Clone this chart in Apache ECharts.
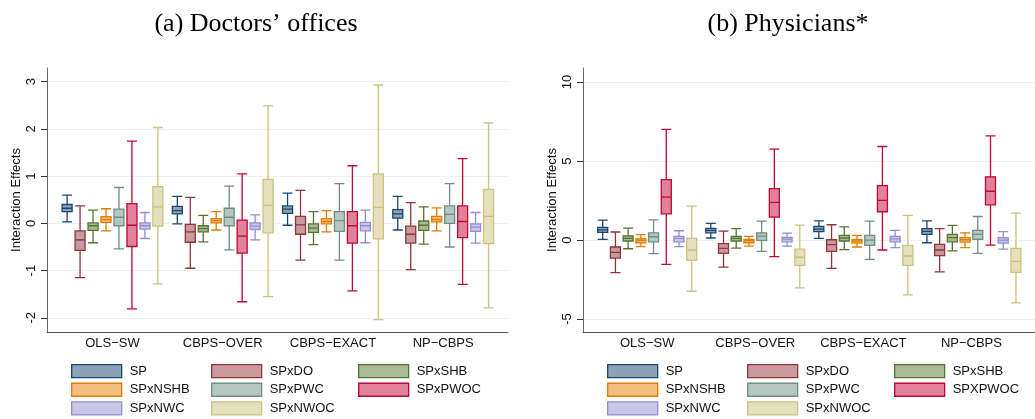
<!DOCTYPE html>
<html>
<head>
<meta charset="utf-8">
<script src="https://cdn.jsdelivr.net/npm/echarts@6/dist/echarts.min.js"></script>
<style>
html,body{margin:0;padding:0;background:#fff;}
#chart{width:1035px;height:419px;}
</style>
</head>
<body>
<div id="chart"></div>
<script>
// 分组与图例名称
var groups = ['OLS\u2212SW', 'CBPS\u2212OVER', 'CBPS\u2212EXACT', 'NP\u2212CBPS'];
var namesA = ['SP', 'SPxDO', 'SPxSHB', 'SPxNSHB', 'SPxPWC', 'SPxPWOC', 'SPxNWC', 'SPxNWOC'];
var namesB = ['SP', 'SPxDO', 'SPxSHB', 'SPxNSHB', 'SPxPWC', 'SPXPWOC', 'SPxNWC', 'SPxNWOC'];
var ticksA = [-2, -1, 0, 1, 2, 3];
var ticksB = [-5, 0, 5, 10];

// (a) Doctors' offices : [min, Q1, median, Q3, max] per group
var officesSP   = [[0.03, 0.25, 0.32, 0.40, 0.60], [-0.01, 0.20, 0.27, 0.36, 0.57], [-0.04, 0.21, 0.30, 0.37, 0.64], [-0.14, 0.11, 0.20, 0.29, 0.57]];
var officesDO   = [[-1.15, -0.57, -0.35, -0.16, 0.37], [-0.95, -0.40, -0.18, -0.02, 0.55], [-0.78, -0.23, -0.03, 0.15, 0.70], [-0.98, -0.42, -0.23, -0.06, 0.44]];
var officesSHB  = [[-0.41, -0.15, -0.05, 0.01, 0.28], [-0.39, -0.18, -0.11, -0.05, 0.17], [-0.45, -0.19, -0.10, -0.01, 0.25], [-0.44, -0.15, -0.04, 0.05, 0.35]];
var officesNSHB = [[-0.16, 0.02, 0.08, 0.14, 0.31], [-0.14, 0.01, 0.06, 0.10, 0.25], [-0.18, -0.01, 0.04, 0.10, 0.27], [-0.16, 0.03, 0.08, 0.15, 0.33]];
var officesPWC  = [[-0.54, -0.05, 0.13, 0.30, 0.76], [-0.56, -0.05, 0.13, 0.32, 0.79], [-0.78, -0.17, 0.06, 0.25, 0.84], [-0.50, 0.00, 0.19, 0.37, 0.84]];
var officesPWOC = [[-1.81, -0.49, -0.04, 0.42, 1.74], [-1.66, -0.63, -0.27, 0.07, 1.05], [-1.43, -0.42, -0.05, 0.25, 1.22], [-1.29, -0.30, 0.04, 0.37, 1.37]];
var officesNWC  = [[-0.32, -0.12, -0.05, 0.01, 0.23], [-0.35, -0.13, -0.06, 0.01, 0.18], [-0.41, -0.16, -0.05, 0.02, 0.28], [-0.42, -0.17, -0.08, -0.01, 0.23]];
var officesNWOC = [[-1.28, -0.06, 0.35, 0.78, 2.03], [-1.55, -0.20, 0.38, 0.93, 2.49], [-2.04, -0.33, 0.34, 1.05, 2.93], [-1.79, -0.43, 0.15, 0.72, 2.13]];

// (b) Physicians*
var physSP   = [[0.04, 0.48, 0.65, 0.80, 1.26], [0.13, 0.46, 0.61, 0.74, 1.05], [0.11, 0.53, 0.69, 0.86, 1.22], [-0.17, 0.36, 0.55, 0.72, 1.22]];
var physDO   = [[-2.06, -1.14, -0.78, -0.44, 0.51], [-1.71, -0.84, -0.53, -0.23, 0.57], [-1.79, -0.72, -0.29, 0.02, 0.97], [-2.02, -0.99, -0.63, -0.27, 0.72]];
var physSHB  = [[-0.55, -0.06, 0.11, 0.27, 0.76], [-0.51, -0.06, 0.11, 0.23, 0.72], [-0.61, -0.06, 0.13, 0.29, 0.84], [-0.69, -0.11, 0.15, 0.36, 0.93]];
var physNSHB = [[-0.42, -0.17, -0.02, 0.08, 0.34], [-0.38, -0.17, -0.04, 0.04, 0.23], [-0.44, -0.19, -0.06, 0.04, 0.29], [-0.48, -0.13, 0.02, 0.15, 0.46]];
var physPWC  = [[-0.86, -0.11, 0.21, 0.46, 1.28], [-0.72, -0.02, 0.25, 0.46, 1.20], [-1.22, -0.34, 0.00, 0.29, 1.20], [-0.84, 0.04, 0.36, 0.61, 1.49]];
var physPWOC = [[-1.54, 1.66, 2.72, 3.83, 7.01], [-1.05, 1.45, 2.38, 3.26, 5.75], [-0.63, 1.79, 2.51, 3.45, 5.92], [-0.32, 2.23, 3.09, 4.00, 6.59]];
var physNWC  = [[-0.42, -0.11, 0.11, 0.23, 0.59], [-0.38, -0.11, 0.06, 0.17, 0.44], [-0.48, -0.11, 0.08, 0.23, 0.61], [-0.57, -0.19, 0.00, 0.15, 0.53]];
var physNWOC = [[-3.24, -1.28, -0.63, 0.11, 2.15], [-3.03, -1.60, -1.09, -0.57, 0.95], [-3.47, -1.60, -1.01, -0.34, 1.56], [-3.98, -2.04, -1.35, -0.53, 1.71]];

var officesData = [officesSP, officesDO, officesSHB, officesNSHB, officesPWC, officesPWOC, officesNWC, officesNWOC];
var physData = [physSP, physDO, physSHB, physNSHB, physPWC, physPWOC, physNWC, physNWOC];

// stata s2color
var strokes = ['#1a476f', '#90353b', '#55752f', '#e37e00', '#6e8e84', '#c10534', '#938dd2', '#cac27e'];
var fills   = ['#8ca3b7', '#c89a9d', '#aaba97', '#f1be80', '#b6c6c1', '#e08299', '#c9c6e8', '#e4e0be'];

var GROUP_STEP = 8.5; // 每组间距(以箱体间距为单位)
var X_MIN = -1.55, X_MAX = 34;
var FONT = 'Liberation Sans';

var chart = echarts.init(document.getElementById('chart'));

var panels = [
	{left: 47, min: -2.3, max: 3.29, ticks: ticksA, names: namesA, data: officesData, title: '(a) Doctors\u2019 offices', titleX: 256},
	{left: 583, min: -5.82, max: 10.89, ticks: ticksB, names: namesB, data: physData, title: '(b) Physicians*', titleX: 788}
];

var grid = [], xAxis = [], yAxis = [], series = [], legend = [], graphic = [];
var columns = [[0, 3, 6], [1, 4, 7], [2, 5]];
var colOffset = [24, 164, 311];

panels.forEach(function(p, pi) {
	grid.push({left: p.left, top: 68, width: 461, height: 264});
	// 可见的分类轴
	xAxis.push({
		type: 'value', gridIndex: pi, min: X_MIN, max: X_MAX,
		axisLine: {show: true, onZero: false, lineStyle: {color: '#555', width: 1}},
		axisTick: {show: false},
		splitLine: {show: false},
		axisLabel: {
			customValues: groups.map(function(g, gi) { return gi * GROUP_STEP + 3.5; }),
			formatter: function(v) { return groups[Math.round((v - 3.5) / GROUP_STEP)]; },
			fontSize: 13, color: '#111', fontFamily: FONT, margin: 5
		}
	});
	yAxis.push({
		type: 'value', gridIndex: pi, min: p.min, max: p.max,
		name: 'Interaction Effects', nameLocation: 'middle', nameRotate: 90, nameGap: 24,
		nameTextStyle: {fontSize: 13, color: '#111', fontFamily: FONT},
		axisLine: {show: true, onZero: false, lineStyle: {color: '#666', width: 1}},
		axisTick: {show: true, length: 6, customValues: p.ticks, lineStyle: {color: '#333'}},
		axisLabel: {customValues: p.ticks, rotate: 90, fontSize: 13, color: '#111', fontFamily: FONT, margin: 9},
		splitLine: {show: true, lineStyle: {color: '#eaf2f3', width: 1}}
	});
	var xBase = xAxis.length;
	p.data.forEach(function(vals, k) {
		// 每个序列独立隐藏x轴, 避免echarts自动偏移
		xAxis.push({type: 'value', gridIndex: pi, min: X_MIN, max: X_MAX, show: false});
		series.push({
			name: p.names[k],
			type: 'boxplot',
			layout: 'horizontal',
			xAxisIndex: xBase + k,
			yAxisIndex: pi,
			boxWidth: [10, 10],
			encode: {x: 0, y: [1, 2, 3, 4, 5]},
			itemStyle: {color: fills[k], borderColor: strokes[k], borderWidth: 1.3},
			emphasis: {disabled: true},
			silent: true,
			data: vals.map(function(v, gi) { return [gi * GROUP_STEP + k].concat(v); })
		});
	});
	columns.forEach(function(col, ci) {
		legend.push({
			orient: 'vertical',
			left: p.left + colOffset[ci], top: 364,
			padding: 0, itemGap: 4.3,
			itemWidth: 50, itemHeight: 13,
			icon: 'rect',
			selectedMode: false,
			textStyle: {fontSize: 13, color: '#111', fontFamily: FONT, padding: [0, 0, 0, 3]},
			data: col.map(function(i) {
				return {name: p.names[i], itemStyle: {color: fills[i], borderColor: strokes[i], borderWidth: 1.3}};
			})
		});
	});
	graphic.push({
		type: 'text', x: p.titleX, y: 11, silent: true,
		style: {text: p.title, font: "26px 'Liberation Serif'", fill: '#000', textAlign: 'center', textVerticalAlign: 'top'}
	});
});

var option = {
	animation: false,
	backgroundColor: '#fff',
	grid: grid,
	xAxis: xAxis,
	yAxis: yAxis,
	legend: legend,
	graphic: graphic,
	series: series
};
chart.setOption(option);
</script>
</body>
</html>
